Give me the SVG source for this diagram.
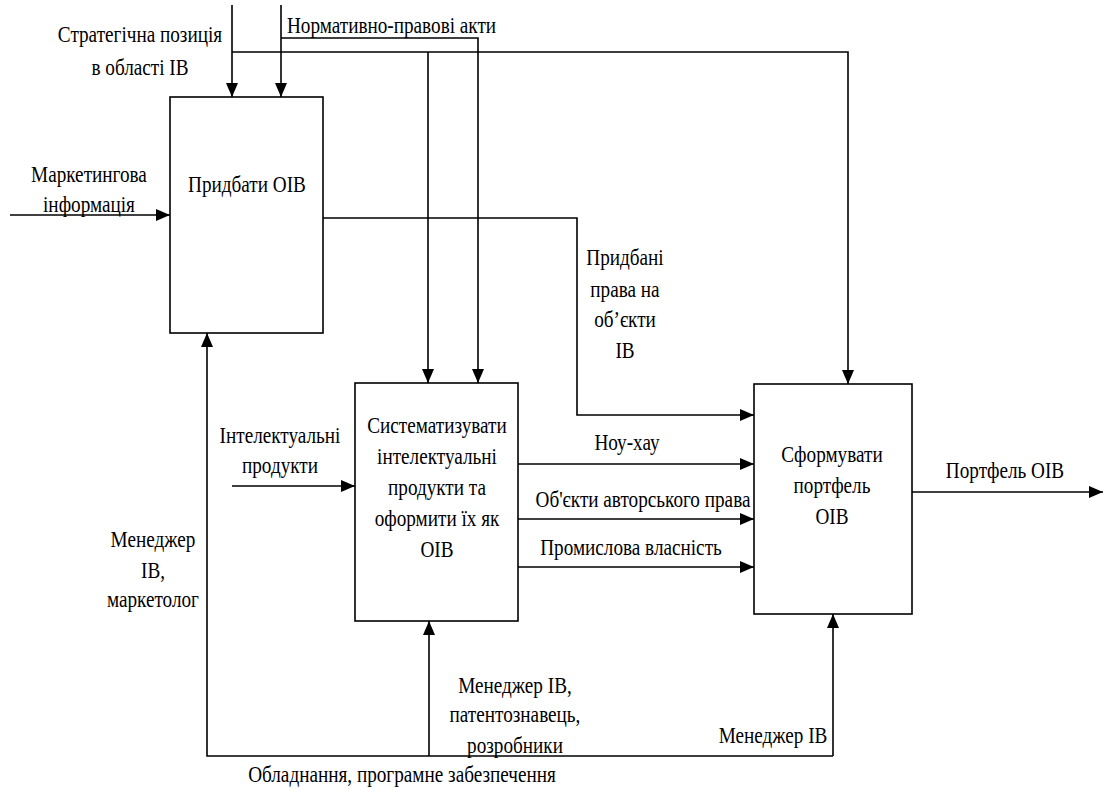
<svg xmlns="http://www.w3.org/2000/svg" width="1105" height="789" viewBox="0 0 1105 789" font-family="Liberation Serif, Times New Roman, DejaVu Serif, serif" font-size="24">
<style>
.box{fill:#fff;stroke:#000;stroke-width:1.6}
.ln{fill:none;stroke:#000;stroke-width:1.6}
.m{text-anchor:middle}
</style>
<defs>
<marker id="ah" markerUnits="userSpaceOnUse" markerWidth="15" markerHeight="13" refX="14" refY="6" orient="auto">
<path d="M0,0 L14,6 L0,12 z" fill="#000"/>
</marker>
</defs>
<rect width="1105" height="789" fill="#fff"/>
<g id="connectors">
<path class="ln" d="M232,5 V97" marker-end="url(#ah)"/>
<path class="ln" d="M232,52 H848 V384" marker-end="url(#ah)"/>
<path class="ln" d="M428,52 V383" marker-end="url(#ah)"/>
<path class="ln" d="M281,5 V97" marker-end="url(#ah)"/>
<path class="ln" d="M281,38 H478 V383" marker-end="url(#ah)"/>
<path class="ln" d="M10,215 H170" marker-end="url(#ah)"/>
<path class="ln" d="M323,218 H577 V415 H754" marker-end="url(#ah)"/>
<path class="ln" d="M518,464 H754" marker-end="url(#ah)"/>
<path class="ln" d="M518,519 H754" marker-end="url(#ah)"/>
<path class="ln" d="M518,567 H754" marker-end="url(#ah)"/>
<path class="ln" d="M232,486 H355" marker-end="url(#ah)"/>
<path class="ln" d="M912,492 H1103" marker-end="url(#ah)"/>
<path class="ln" d="M833,756 H207 V333" marker-end="url(#ah)"/>
<path class="ln" d="M429,756 V621" marker-end="url(#ah)"/>
<path class="ln" d="M833,756 V614" marker-end="url(#ah)"/>
<g transform="scale(0.8 1)">
<text class="m" x="175" y="42">Стратегічна позиція</text>
<text class="m" x="175" y="75">в області ІВ</text>
<text x="358.75" y="33">Нормативно-правові акти</text>
<text class="m" x="111.25" y="182">Маркетингова</text>
<text class="m" x="111.25" y="212">інформація</text>
<text class="m" x="781.25" y="265">Придбані</text>
<text class="m" x="781.25" y="297">права на</text>
<text class="m" x="781.25" y="327">об’єкти</text>
<text class="m" x="781.25" y="358">ІВ</text>
<text class="m" x="783.75" y="450">Ноу-хау</text>
<text class="m" x="803.75" y="507">Об'єкти авторського права</text>
<text class="m" x="788.75" y="555">Промислова власність</text>
<text class="m" x="350" y="443">Інтелектуальні</text>
<text class="m" x="350" y="473">продукти</text>
<text class="m" x="1256.25" y="478">Портфель OIB</text>
<text class="m" x="191.25" y="547">Менеджер</text>
<text class="m" x="191.25" y="578">ІВ,</text>
<text class="m" x="191.25" y="607">маркетолог</text>
<text class="m" x="643.75" y="693">Менеджер ІВ,</text>
<text class="m" x="643.75" y="722">патентознавець,</text>
<text class="m" x="643.75" y="753">розробники</text>
<text class="m" x="966.25" y="743">Менеджер ІВ</text>
<text class="m" x="502.5" y="782">Обладнання, програмне забезпечення</text>
</g>
</g>
<g id="node-acquire">
<rect class="box" x="170" y="97" width="153" height="236"/>
<text class="m" transform="scale(0.8 1)" x="308.75" y="192">Придбати OIB</text>
</g>
<g id="node-systematize">
<rect class="box" x="355" y="383" width="163" height="238"/>
<g class="m" transform="scale(0.8 1)">
<text x="546.25" y="433">Систематизувати</text>
<text x="546.25" y="464">інтелектуальні</text>
<text x="546.25" y="495">продукти та</text>
<text x="546.25" y="526">оформити їх як</text>
<text x="546.25" y="557">OIB</text>
</g>
</g>
<g id="node-portfolio">
<rect class="box" x="754" y="384" width="158" height="230"/>
<g class="m" transform="scale(0.8 1)">
<text x="1040" y="462">Сформувати</text>
<text x="1040" y="493">портфель</text>
<text x="1040" y="524">OIB</text>
</g>
</g>
</svg>
